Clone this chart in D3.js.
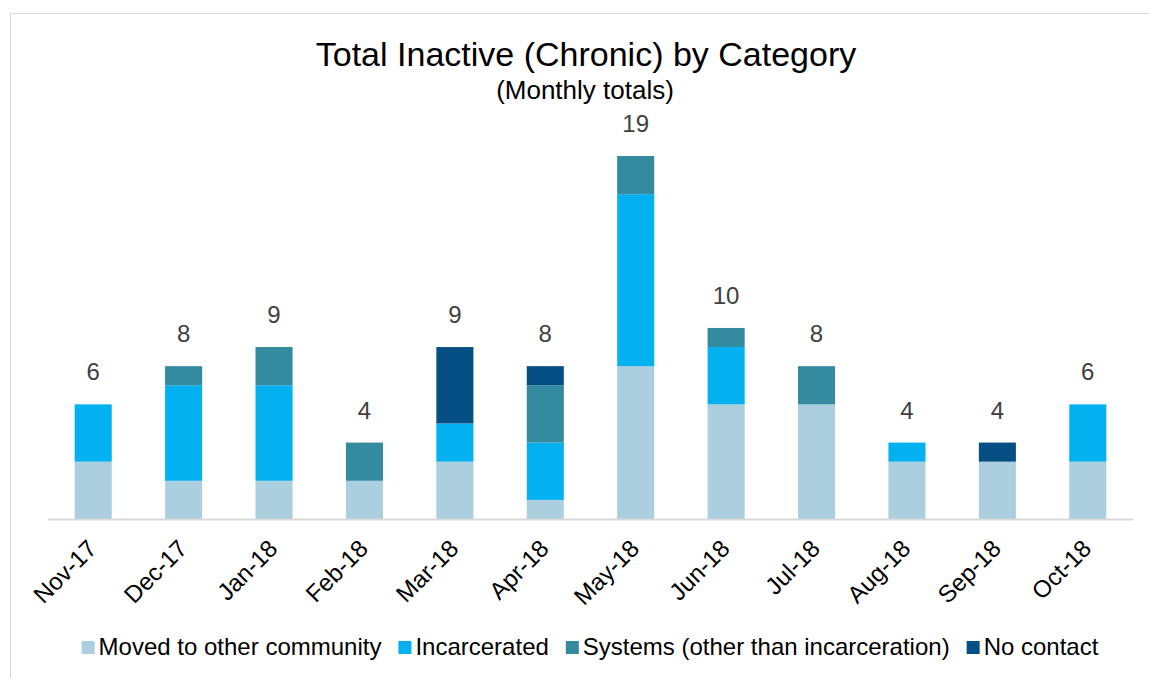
<!DOCTYPE html>
<html><head><meta charset="utf-8">
<script src="https://cdn.jsdelivr.net/npm/d3@7"></script>
<style>body{margin:0;background:#fff;font-family:"Liberation Sans",Arial,sans-serif}</style>
</head><body>
<svg id="c" width="1149" height="678" font-family="Liberation Sans, Arial, sans-serif"></svg>
<script>
const categories = ["Nov-17","Dec-17","Jan-18","Feb-18","Mar-18","Apr-18","May-18","Jun-18","Jul-18","Aug-18","Sep-18","Oct-18"];
const seriesNames = ["Moved to other community","Incarcerated","Systems (other than incarceration)","No contact"];
const moved        = [3,2,2,2,3,1,8,6,6,3,3,3];
const incarcerated = [3,5,5,0,2,3,9,3,0,1,0,3];
const systems      = [0,1,2,2,0,3,2,1,2,0,0,0];
const noContact    = [0,0,0,0,4,1,0,0,0,0,1,0];
const colors = ["#abcfdf","#03b0f0","#348a9f","#064f85"];

const svg = d3.select("#c");
const W = 1149, H = 678;
svg.append("rect").attr("x",10.5).attr("y",13.5).attr("width",W).attr("height",H).attr("fill","#fff").attr("stroke","#d9d9d9");

const rows = categories.map((c,i)=>({cat:c, s0:moved[i], s1:incarcerated[i], s2:systems[i], s3:noContact[i]}));
const keys = ["s0","s1","s2","s3"];
const stack = d3.stack().keys(keys)(rows);

const x = d3.scaleBand().domain(categories).range([48,1133]).paddingInner(0.59).paddingOuter(0.295);
const y = d3.scaleLinear().domain([0,19]).range([519,156]);

svg.append("text").attr("x",586).attr("y",66).attr("text-anchor","middle").attr("font-size",34).attr("fill","#000").text("Total Inactive (Chronic) by Category");
svg.append("text").attr("x",585).attr("y",99).attr("text-anchor","middle").attr("font-size",26).attr("fill","#000").text("(Monthly totals)");

stack.forEach((layer,li)=>{
  svg.append("g").selectAll("rect").data(layer).join("rect")
    .attr("x",d=>x(d.data.cat)).attr("width",x.bandwidth())
    .attr("y",d=>y(d[1])).attr("height",d=>y(d[0])-y(d[1]))
    .attr("fill",colors[li]);
});

// axis line
svg.append("line").attr("x1",48).attr("x2",1133).attr("y1",519.5).attr("y2",519.5).attr("stroke","#d9d9d9").attr("stroke-width",2);

// totals
const totals = rows.map(r=>r.s0+r.s1+r.s2+r.s3);
svg.append("g").selectAll("text").data(categories).join("text")
  .attr("x",d=>x(d)+x.bandwidth()/2).attr("y",(d,i)=>y(totals[i])-24)
  .attr("text-anchor","middle").attr("font-size",24).attr("fill","#404040")
  .text((d,i)=>totals[i]);

// x labels
const xAxis = d3.axisBottom(x).tickSize(0).tickPadding(0);
const gx = svg.append("g").attr("transform","translate(0,519)").call(xAxis);
gx.select(".domain").remove();
gx.selectAll("text").attr("font-size",24).attr("fill","#000").attr("font-family","Liberation Sans, Arial, sans-serif")
  .attr("text-anchor","end").attr("dy",0).attr("dx",0)
  .attr("transform","translate(5,31) rotate(-45)");

// legend
const lg = svg.append("g");
const items = [];
seriesNames.forEach((n,i)=>{
  const g = lg.append("g");
  g.append("rect").attr("x",0).attr("y",-14).attr("width",13).attr("height",13).attr("fill",colors[i]);
  const t = g.append("text").attr("x",17).attr("y",0).attr("font-size",24).attr("fill","#000").text(n);
  const w = 17 + t.node().getComputedTextLength();
  items.push({g, w});
});
const gap = 17;
let total = items.reduce((a,b)=>a+b.w,0) + gap*(items.length-1);
let start = 590 - total/2;
items.forEach(it=>{ it.g.attr("transform",`translate(${start},655)`); start += it.w + gap; });
</script>
</body></html>
